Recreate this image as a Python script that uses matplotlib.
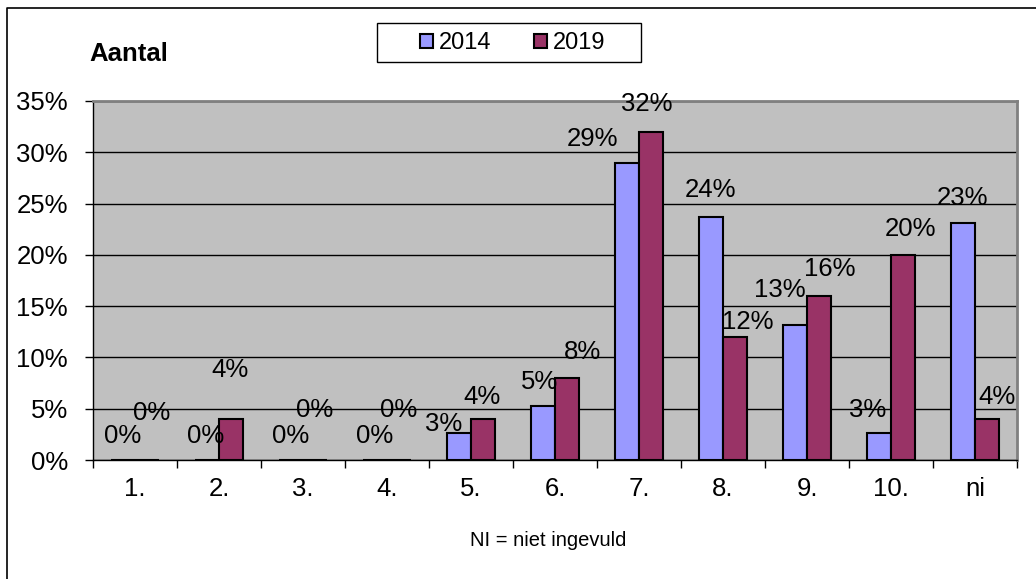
import matplotlib.pyplot as plt
import numpy as np
from matplotlib.lines import Line2D
from matplotlib.patches import Rectangle
from matplotlib.ticker import FixedLocator, PercentFormatter

plt.rcParams['font.family'] = ['Liberation Sans', 'DejaVu Sans']

categories = ["1.", "2.", "3.", "4.", "5.", "6.", "7.", "8.", "9.", "10.", "ni"]
vals_2014 = [0, 0, 0, 0, 2.6, 5.3, 29.0, 23.7, 13.2, 2.6, 23.1]
vals_2019 = [0, 4, 0, 0, 4, 8, 32, 12, 16, 20, 4]
labels_2014 = ["0%", "0%", "0%", "0%", "3%", "5%", "29%", "24%", "13%", "3%", "23%"]
labels_2019 = ["0%", "4%", "0%", "0%", "4%", "8%", "32%", "12%", "16%", "20%", "4%"]
series_names = ["2014", "2019"]
yticks = [0, 5, 10, 15, 20, 25, 30, 35]

# label offsets in pixels (as placed in the original Excel chart)
off_2014 = [(0, 24), (-1, 24), (0, 24), (0, 24), (-15, 9), (-3, 24),
            (-35, 24), (-1, 27), (-15, 35), (-11, 23), (-1, 25)]
off_2019 = [(5, 47), (-1, 49), (0, 50), (0, 50), (-1, 22), (15, 26),
            (-4, 28), (13, 15), (11, 27), (7, 26), (10, 22)]

c2014 = "#9999FF"
c2019 = "#993366"
fs = 18.5

fig = plt.figure(figsize=(10.36, 5.79), dpi=100)
ax = fig.add_axes([0.0898, 0.2055, 0.8919, 0.6201])
ax.set_facecolor("#C0C0C0")

x = np.arange(len(categories))
w = 0.286
b1 = ax.bar(x - w / 2, vals_2014, w, color=c2014, edgecolor="black", linewidth=1.5,
            label=series_names[0], zorder=3)
b2 = ax.bar(x + w / 2, vals_2019, w, color=c2019, edgecolor="black", linewidth=1.5,
            label=series_names[1], zorder=3)

for xi, v, lab, (dx, dy) in zip(x - w / 2, vals_2014, labels_2014, off_2014):
    ax.annotate(lab, (xi, v), xytext=(dx, dy), textcoords="offset pixels",
                ha="center", va="center", fontsize=fs, zorder=4, annotation_clip=False)
for xi, v, lab, (dx, dy) in zip(x + w / 2, vals_2019, labels_2019, off_2019):
    ax.annotate(lab, (xi, v), xytext=(dx, dy), textcoords="offset pixels",
                ha="center", va="center", fontsize=fs, zorder=4, annotation_clip=False)

ax.set_xlim(-0.5, len(categories) - 0.5)
ax.set_ylim(0, 35)
ax.set_yticks(yticks)
ax.yaxis.set_major_formatter(PercentFormatter(decimals=0))
ax.grid(axis="y", color="black", linewidth=1, zorder=1)

ax.xaxis.set_major_locator(FixedLocator(np.arange(-0.5, len(categories), 1.0)))
ax.xaxis.set_minor_locator(FixedLocator(x))
ax.set_xticklabels([], minor=False)
ax.set_xticklabels(categories, minor=True)
ax.tick_params(axis="x", which="major", length=6, width=1, direction="out")
ax.tick_params(axis="x", which="minor", length=0, pad=12, labelsize=fs)
ax.tick_params(axis="y", length=6, width=1, direction="out", pad=12, labelsize=fs)

for s in ["top", "right"]:
    ax.spines[s].set_color("#808080")
    ax.spines[s].set_linewidth(2)
for s in ["left", "bottom"]:
    ax.spines[s].set_color("black")
    ax.spines[s].set_linewidth(1)

# legend box drawn like the Excel one
fig.add_artist(Rectangle((377 / 1036, 1 - 62 / 579), 264 / 1036, 39 / 579,
                         transform=fig.transFigure, facecolor="white",
                         edgecolor="black", linewidth=1))
leg = fig.legend(handles=[b1, b2], labels=series_names, loc="center",
                 bbox_to_anchor=(513 / 1036, 1 - 43 / 579), ncol=2, fontsize=17,
                 frameon=False, handlelength=0.55, handleheight=0.55,
                 handletextpad=0.25, columnspacing=1.8, borderpad=0)

fig.text(89 / 1036, 1 - 54 / 579, "Aantal", fontsize=fs, fontweight="bold",
         ha="left", va="center")
fig.text(548 / 1036, 1 - 540 / 579, "NI = niet ingevuld", fontsize=14.5,
         ha="center", va="center")

# chart-area border (left and top, as in the reference)
fig.add_artist(Line2D([7 / 1036, 7 / 1036, 1.0], [0.0, 1 - 8 / 579, 1 - 8 / 579],
                      transform=fig.transFigure, color="black", linewidth=1.2))

fig.savefig("out.png", dpi=100)
